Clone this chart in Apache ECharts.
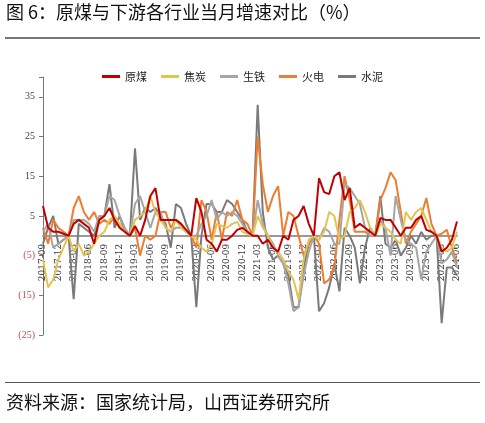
<!DOCTYPE html>
<html><head><meta charset="utf-8">
<script src="https://cdn.jsdelivr.net/npm/echarts@6/dist/echarts.min.js"></script>
<style>html,body{margin:0;padding:0;background:#fff}#c{width:485px;height:423px}</style>
</head><body><div id="c"></div>
<script>
const categories = [];
for (let y = 2017, m = 9; y < 2024 || (y === 2024 && m <= 6); ) {
  categories.push(y + '-' + String(m).padStart(2, '0'));
  m++; if (m > 12) { m = 1; y++; }
}
const coal = [7.5,2,1,1,
 0.5,0,3,4,3,2,-2,4,5,7,4,2,
 1,0,2.5,0,4,10,12,4,4,4,4,3,
 1.5,0,9.5,6,-1,-2,-4,-1,-1,0,1.5,2,
 1,0,0,-2,-1,-3,-4,0,-1,4,5,7.5,
 3,0,14.5,11,10.5,15,16,9,12,2,3,2,
 1,0,4.5,4,4,2,0,2,2,4,5,1.5,
 1,0,-4,-3,-1,3.6];
const coke = [-6,-13,-11,-6,
 -3,0,-4,-2,-5,-4,-2,0,1,4,5,3,
 1,0,4,5,6,10,6,4,2,1,4,2,
 1,0,-1,-3,-4,-2,3,2.5,2,3,3.5,1,
 0.5,0,5,2,0,-3,-4,-6,-9,-11,-16,-6,
 -1,0,-1,1,6,5,-1,0,6,7,9,6,
 2,0,3,2,1,-1,-2,6,4,6,7,4,
 1,0,-3,-4,-3,1];
const iron = [1,3,-3,-2,
 -1,0,4,4,4,3,1,5,5,10,9,5,
 2,0,8,10,6,2,6,6,2,1,2,2,
 1,0,0,3,5,9,4,6,5,6,5,3,
 1,0,9,3,0,-2,-5,-7,-12,-19,-18,-10,
 -4,0,-1,2,1,-2,-2,13,12,10,8,2,
 0,0,4,2,-5,10,4,-1,-2,-3,-11,-4,
 -2,0,-7,-6,-4,-8];
const power = [2,-2,4,2,
 1,0,7,10,6,4,6,3,4,3,5,2,
 1,0,2,-5,0,-1,0,6,6,2,4,3,
 1,0,-3,9,6,-1,6,-1,6,5,9,4,
 3,0,25,13,6,10,12.5,0,6,5,0,-5,
 -2,0,-2,-12,-11,-8,4,15,9,1,1,1,
 0,0,9,12,16,14,6,-2,1,3,5,9.5,
 3,0,0.5,1.5,-3,-7];
const cement = [-2,2,5,-2,
 -1,0,-16,3,2,1,0,4,5,13,2,5,
 1,0,22,4,7,6,7,5,3,-3,8,7,
 3,0,-18,0,8,8,6,6,9,8,6,4,
 1,0,33,6,-3,-6,-5,-7,-10,-18,-18,-8,
 -2,0,-19,-17,-13,-7,-14,2,0,-3,-12,-3,
 2,0,10,-2,-3,-1,-5,-3,0,-2,1,-1,
 0,0,-22,-8,-8,-10];
const names = ['原煤','焦炭','生铁','火电','水泥'];
const colors = ['#c00000','#e3c453','#a6a6a6','#ed7d31','#7a7a7a'];
const datas = [coal, coke, iron, power, cement];
const font = "'Noto Sans CJK SC', sans-serif";
const chart = echarts.init(document.getElementById('c'));
const gridH = 423 - 77 - 88;
const yMin = -25, yMax = 40;
const zeroOffset = gridH * (0 - yMin) / (yMax - yMin);
chart.setOption({
  animation: false,
  textStyle: { fontFamily: font },
  color: colors,
  graphic: [
    { type: 'text', left: 6, top: 3, style: { text: '图 6：原煤与下游各行业当月增速对比（%）', fontSize: 18, fill: '#111', fontFamily: font } },
    { type: 'rect', shape: { x: 5, y: 37, width: 475, height: 2 }, style: { fill: '#777' } },
    { type: 'rect', shape: { x: 5, y: 382, width: 475, height: 1 }, style: { fill: '#555' } },
    { type: 'text', left: 6, top: 393, style: { text: '资料来源：国家统计局，山西证券研究所', fontSize: 18, fill: '#111', fontFamily: font } }
  ],
  legend: {
    top: 66, left: 'center', itemWidth: 18, itemHeight: 3, itemGap: 14,
    icon: 'rect', textStyle: { fontSize: 11, color: '#222' },
    data: names
  },
  grid: { left: 43, right: 28, top: 77, bottom: 88 },
  xAxis: {
    type: 'category', data: categories, boundaryGap: false,
    offset: -zeroOffset,
    axisLine: { onZero: false, lineStyle: { color: '#999', width: 2 } },
    axisTick: { show: false },
    axisLabel: { interval: 2, rotate: 90, fontSize: 9, color: '#333', fontFamily: 'DejaVu Serif' }
  },
  yAxis: {
    type: 'value', min: yMin, max: yMax, interval: 10,
    splitLine: { show: false },
    axisLine: { show: true, lineStyle: { color: '#777' } },
    axisTick: { show: true, length: 4 },
    axisLabel: {
      fontSize: 10, fontFamily: 'Liberation Serif',
      formatter: v => v === 40 ? '' : (v < 0 ? '(' + (-v) + ')' : String(v)),
      color: v => (v < 0 ? '#c0504d' : '#444')
    }
  },
  series: datas.map((d, i) => ({
    name: names[i], type: 'line', data: d, symbol: 'none',
    lineStyle: { width: 2, color: colors[i] }, z: i === 0 ? 10 : 5 - i
  }))
});
</script></body></html>
